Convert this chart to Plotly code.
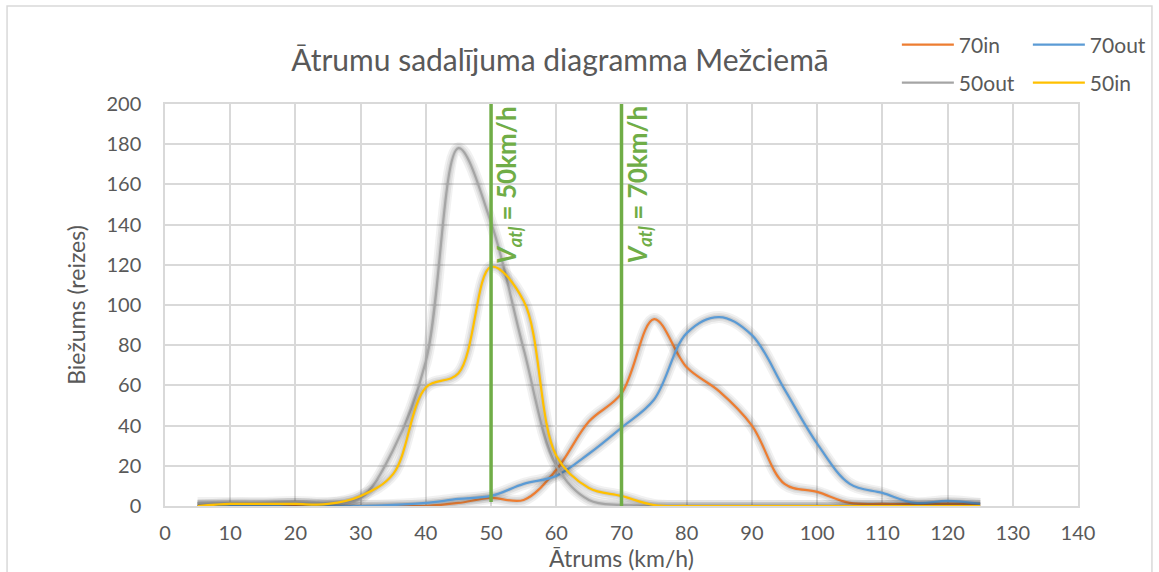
import plotly.graph_objects as go

# ---- data ----
speeds = [5, 10, 15, 20, 25, 30, 35, 40, 45, 50, 55, 60, 65, 70, 75, 80, 85, 90, 95, 100, 105, 110, 115, 120, 125]
in70 = [0, 0, 0, 0, 0, 0, 0, 0, 1.5, 4, 3, 18, 42, 56, 93, 69, 57, 40, 11, 7, 1.5, 1, 1, 1, 1]
out70 = [0, 0, 0, 1, 0, 0, 0.5, 1.5, 3.5, 5, 11, 15, 26, 39, 53, 86, 94, 85, 58, 31, 11, 6.5, 1.5, 2.5, 1]
out50 = [1.5, 1.5, 1.5, 2, 1.5, 4, 28, 72, 178, 141, 78, 20, 3, 0.5, 0, 0, 0, 0, 0, 0, 0, 0, 0, 0, 0]
in50 = [0, 1, 1, 1, 1, 5, 16, 59, 66, 119, 102, 25, 9, 5, 0.5, 0, 0, 0, 0, 0, 0, 0, 0, 0, 0]
series_names = ["70in", "70out", "50out", "50in"]
series_colors = ["#ED7D31", "#5B9BD5", "#A5A5A5", "#FFC000"]
limits = [50, 70]
limit_labels = ["50km/h", "70km/h"]
x_ticks = list(range(0, 141, 10))
y_ticks = list(range(0, 201, 20))

FONT = "Lato, 'Open Sans', sans-serif"
TXT = "#595959"
GRID = "#D9D9D9"
GREEN = "#70AD47"

fig = go.Figure()
all_series = [in70, out70, out50, in50]
legends = ["legend", "legend", "legend2", "legend2"]
for name, col, vals, lg in zip(series_names, series_colors, all_series, legends):
    for w, a in [(12, 0.07), (8, 0.09), (4.5, 0.11)]:
        fig.add_trace(go.Scatter(x=speeds, y=vals, mode="lines",
                                 line=dict(color=f"rgba(60,60,60,{a})", width=w, shape="spline"),
                                 showlegend=False, hoverinfo="skip"))
    fig.add_trace(go.Scatter(x=speeds, y=vals, mode="lines", name=name, legend=lg,
                             line=dict(color=col, width=2.25, shape="spline")))

for lim, lab, yb in zip(limits, limit_labels, [2, -2]):
    fig.add_shape(type="line", x0=lim, x1=lim, y0=yb, y1=200, xref="x", yref="y",
                  line=dict(color=GREEN, width=3.5))
    fig.add_annotation(x=lim, y=200, xref="x", yref="y", xshift=16,
                       text=f"<b><i>V<sub>atļ</sub></i> = {lab}</b>",
                       textangle=-90, showarrow=False, xanchor="center", yanchor="top",
                       font=dict(family=FONT, size=26, color=GREEN))

# chart border
fig.add_shape(type="rect", xref="paper", yref="paper", x0=-0.173, x1=1.081, y0=-0.2, y1=1.244,
              line=dict(color=GRID, width=1.5), fillcolor="rgba(0,0,0,0)", layer="below")

fig.update_layout(
    width=1159, height=572,
    margin=dict(l=165, r=81, t=104, b=66, autoexpand=False),
    paper_bgcolor="white", plot_bgcolor="white",
    font=dict(family=FONT, color=TXT, size=19),
    title=dict(text="Ātrumu sadalījuma diagramma Mežciemā", x=560 / 1159, xanchor="center",
               y=1 - 60 / 572, yanchor="middle", font=dict(size=30, color=TXT, family=FONT)),
    legend=dict(orientation="h", x=0.8016, y=1.147, xanchor="left", yanchor="middle",
                entrywidth=64, entrywidthmode="pixels", itemwidth=52,
                font=dict(size=21, color=TXT, family=FONT), bgcolor="rgba(0,0,0,0)"),
    legend2=dict(orientation="h", x=0.8016, y=1.052, xanchor="left", yanchor="middle",
                 entrywidth=64, entrywidthmode="pixels", itemwidth=52,
                 font=dict(size=21, color=TXT, family=FONT), bgcolor="rgba(0,0,0,0)"),
    xaxis=dict(range=[0, 140], tickvals=x_ticks, showgrid=True, gridcolor=GRID, gridwidth=1.5,
               showline=True, linecolor=GRID, linewidth=1.5, mirror=True, zeroline=False,
               ticks="", tickfont=dict(size=20, color=TXT), ticklabelstandoff=8,
               title=dict(text="Ātrums (km/h)", standoff=0, font=dict(size=23, color=TXT))),
    yaxis=dict(range=[0, 200], tickvals=y_ticks, showgrid=True, gridcolor=GRID, gridwidth=1.5,
               showline=True, linecolor=GRID, linewidth=1.5, mirror=True, zeroline=False,
               ticks="", tickfont=dict(size=20, color=TXT), ticklabelstandoff=18,
               title=dict(text="Biežums (reizes)", standoff=14, font=dict(size=23, color=TXT))),
)

fig.write_html("out.html")
